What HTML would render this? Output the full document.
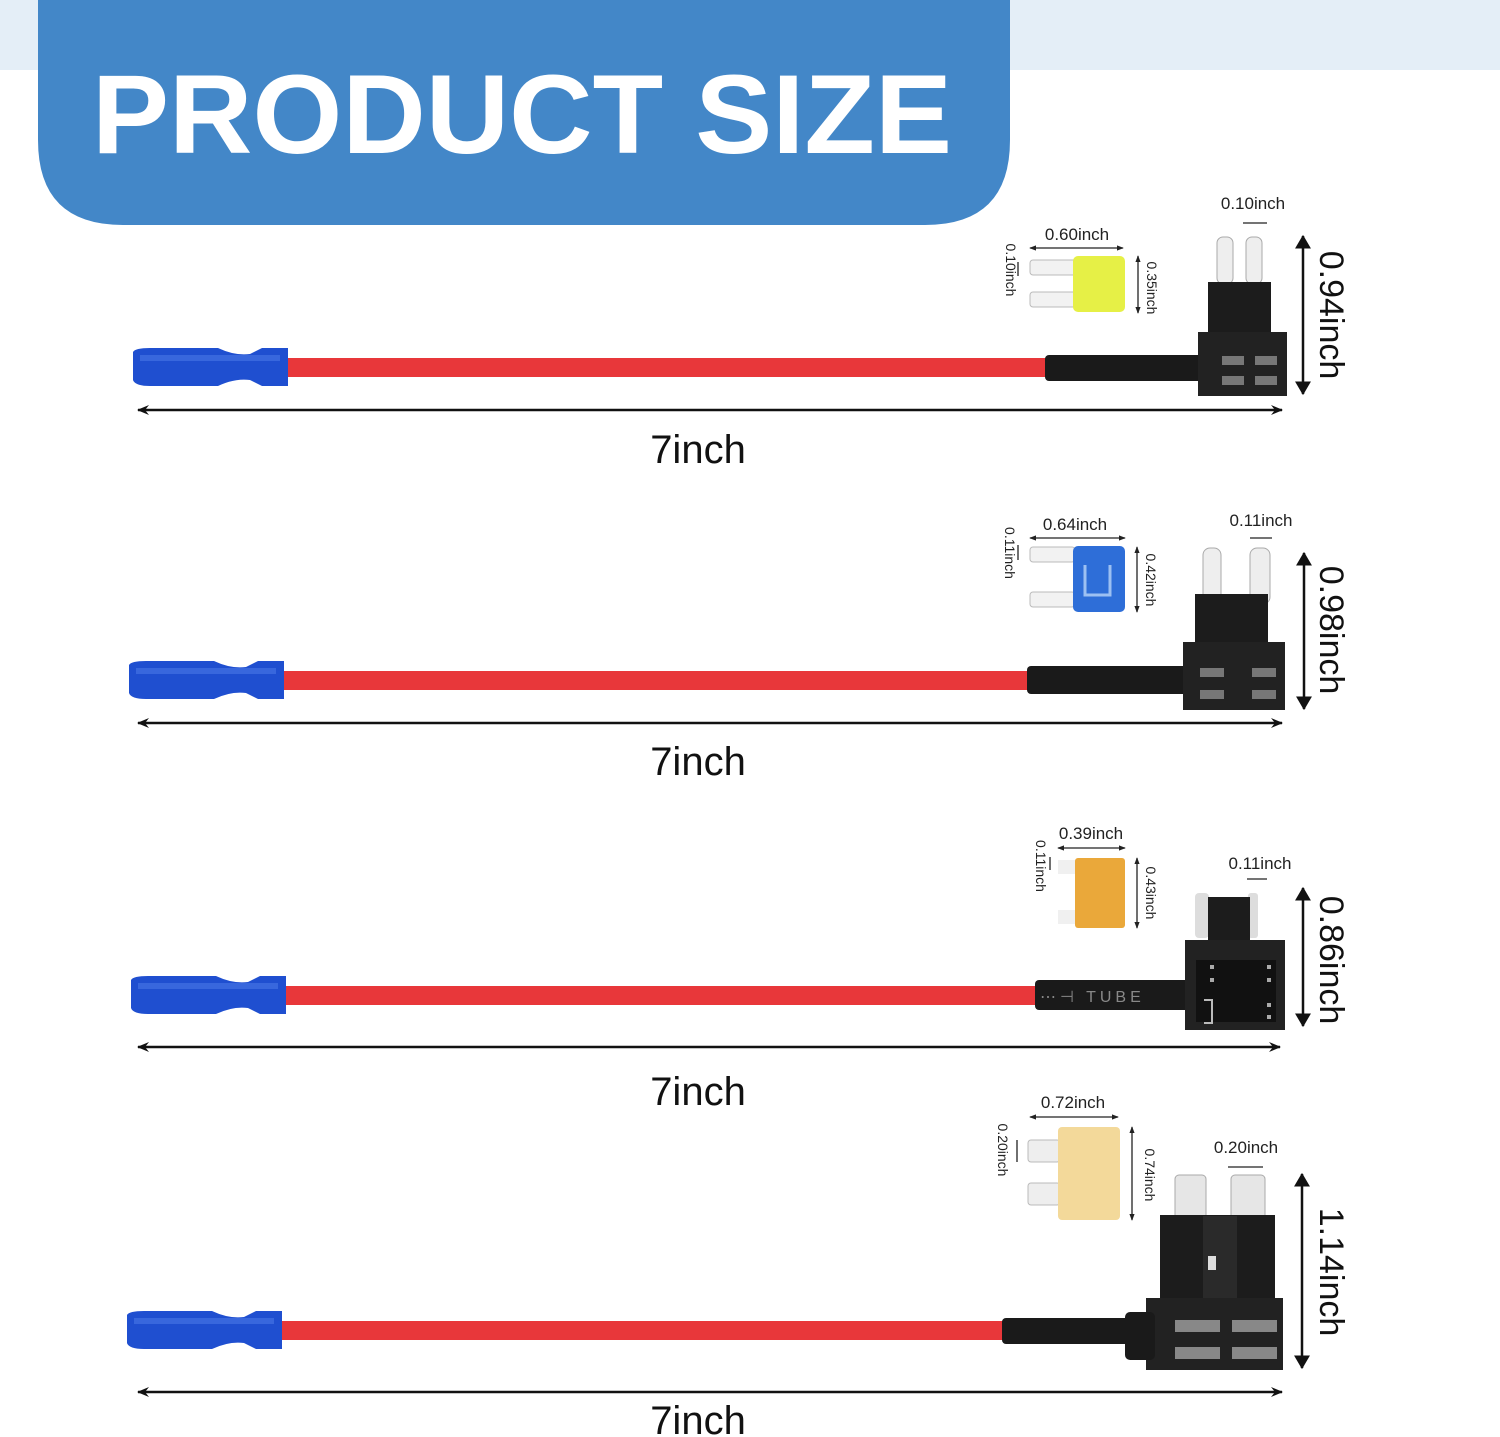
<!DOCTYPE html>
<html><head><meta charset="utf-8"><style>
html,body{margin:0;padding:0;background:#fff;}
svg{display:block;}
text{font-family:"Liberation Sans",sans-serif;}
</style></head><body>
<svg width="1500" height="1437" viewBox="0 0 1500 1437" xmlns="http://www.w3.org/2000/svg">
<defs>
<marker id="ah" viewBox="0 0 12 10" refX="11" refY="5" markerWidth="12" markerHeight="10" markerUnits="userSpaceOnUse" orient="auto-start-reverse"><path d="M0,0 L12,5 L0,10 L4,5 z" fill="#111"/></marker>
<marker id="ab" viewBox="0 0 12 14" refX="11" refY="7" markerWidth="14" markerHeight="16" markerUnits="userSpaceOnUse" orient="auto-start-reverse"><path d="M0,0 L12,7 L0,14 z" fill="#111"/></marker>
<marker id="as" viewBox="0 0 8 6" refX="7" refY="3" markerWidth="7" markerHeight="6" markerUnits="userSpaceOnUse" orient="auto-start-reverse"><path d="M0,0 L8,3 L0,6 z" fill="#222"/></marker>
</defs>
<rect x="0" y="0" width="1500" height="70" fill="#e4eef7"/>
<path d="M38,0 H1010 V140 Q1010,225 925,225 H123 Q38,225 38,140 Z" fill="#4387c8"/>
<text x="92" y="153" font-size="112" font-weight="bold" fill="#fff" textLength="860" lengthAdjust="spacingAndGlyphs">PRODUCT SIZE</text>

<!-- connectors -->
<g id="conn">
<path d="M133,352 Q135,348 150,348 H218 Q235,356 250,354 L262,348 H288 V386 H262 L250,380 Q235,378 218,386 H150 Q135,386 133,380 Z" fill="#1f4fd0"/>
<rect x="140" y="355" width="140" height="6" fill="#4a78e6" opacity="0.6"/>
</g>
<use href="#conn" transform="translate(-4,313)"/>
<use href="#conn" transform="translate(-2,628)"/>
<use href="#conn" transform="translate(-6,963)"/>

<!-- wires -->
<rect x="288" y="358" width="760" height="19" fill="#e8373a"/>
<rect x="1045" y="355" width="160" height="26" fill="#1a1a1a" rx="4"/>
<rect x="284" y="671" width="746" height="19" fill="#e8373a"/>
<rect x="1027" y="666" width="160" height="28" fill="#1a1a1a" rx="4"/>
<rect x="286" y="986" width="752" height="19" fill="#e8373a"/>
<rect x="1035" y="980" width="155" height="30" fill="#1a1a1a" rx="4"/>
<text x="1040" y="1002" font-size="16" fill="#888" letter-spacing="4">⋯⊣ TUBE</text>
<rect x="282" y="1321" width="722" height="19" fill="#e8373a"/>
<rect x="1002" y="1318" width="140" height="26" fill="#1a1a1a" rx="4"/>

<!-- holder 1 -->
<rect x="1217" y="237" width="16" height="47" rx="6" fill="#eee" stroke="#aaa"/>
<rect x="1246" y="237" width="16" height="47" rx="6" fill="#eee" stroke="#aaa"/>
<rect x="1208" y="282" width="63" height="52" fill="#1c1c1c"/>
<rect x="1198" y="332" width="89" height="64" fill="#222"/>
<g fill="#777"><rect x="1222" y="356" width="22" height="9"/><rect x="1255" y="356" width="22" height="9"/><rect x="1222" y="376" width="22" height="9"/><rect x="1255" y="376" width="22" height="9"/></g>
<!-- holder 2 -->
<rect x="1203" y="548" width="18" height="56" rx="7" fill="#eee" stroke="#aaa"/>
<rect x="1250" y="548" width="20" height="56" rx="7" fill="#eee" stroke="#aaa"/>
<rect x="1195" y="594" width="73" height="50" fill="#1c1c1c"/>
<rect x="1183" y="642" width="102" height="68" fill="#222"/>
<g fill="#777"><rect x="1200" y="668" width="24" height="9"/><rect x="1252" y="668" width="24" height="9"/><rect x="1200" y="690" width="24" height="9"/><rect x="1252" y="690" width="24" height="9"/></g>
<!-- holder 3 -->
<rect x="1195" y="893" width="14" height="45" rx="4" fill="#ddd"/>
<rect x="1248" y="893" width="10" height="45" rx="3" fill="#ddd"/>
<rect x="1208" y="897" width="42" height="45" fill="#1c1c1c"/>
<rect x="1185" y="940" width="100" height="90" fill="#222"/>
<rect x="1196" y="960" width="80" height="62" fill="#111"/>
<g fill="#aaa"><rect x="1210" y="965" width="4" height="4"/><rect x="1210" y="978" width="4" height="4"/><rect x="1267" y="965" width="4" height="4"/><rect x="1267" y="978" width="4" height="4"/><rect x="1267" y="1003" width="4" height="4"/><rect x="1267" y="1015" width="4" height="4"/></g>
<path d="M1204,1000 H1212 V1023 H1204" fill="none" stroke="#bbb" stroke-width="2"/>
<!-- holder 4 -->
<rect x="1175" y="1175" width="31" height="48" rx="4" fill="#e6e6e6" stroke="#aaa"/>
<rect x="1231" y="1175" width="34" height="48" rx="4" fill="#e6e6e6" stroke="#aaa"/>
<rect x="1160" y="1215" width="115" height="90" fill="#1c1c1c"/>
<rect x="1203" y="1216" width="34" height="85" fill="#2a2a2a"/>
<rect x="1208" y="1256" width="8" height="14" fill="#ddd"/>
<rect x="1146" y="1298" width="137" height="72" fill="#222"/>
<rect x="1125" y="1312" width="30" height="48" fill="#1a1a1a" rx="5"/>
<g fill="#888"><rect x="1175" y="1320" width="45" height="12"/><rect x="1232" y="1320" width="45" height="12"/><rect x="1175" y="1347" width="45" height="12"/><rect x="1232" y="1347" width="45" height="12"/></g>

<!-- fuses -->
<rect x="1030" y="260" width="48" height="15" rx="3" fill="#f2f2f2" stroke="#bbb"/>
<rect x="1030" y="292" width="48" height="15" rx="3" fill="#f2f2f2" stroke="#bbb"/>
<rect x="1073" y="256" width="52" height="56" rx="5" fill="#e6f046"/>
<rect x="1030" y="547" width="45" height="15" rx="3" fill="#f2f2f2" stroke="#bbb"/>
<rect x="1030" y="592" width="45" height="15" rx="3" fill="#f2f2f2" stroke="#bbb"/>
<rect x="1073" y="546" width="52" height="66" rx="5" fill="#2e6ed8"/>
<path d="M1085,565 V595 H1110 V565" fill="none" stroke="#9cc0f2" stroke-width="3"/>
<rect x="1058" y="860" width="20" height="14" fill="#f0f0f0"/>
<rect x="1058" y="910" width="20" height="14" fill="#f0f0f0"/>
<rect x="1075" y="858" width="50" height="70" rx="3" fill="#eaa83a"/>
<rect x="1028" y="1140" width="32" height="22" rx="3" fill="#eee" stroke="#bbb"/>
<rect x="1028" y="1183" width="32" height="22" rx="3" fill="#eee" stroke="#bbb"/>
<rect x="1058" y="1127" width="62" height="93" rx="4" fill="#f3d99a"/>

<!-- dimension lines -->
<g stroke="#111" stroke-width="2.5" fill="none">
<line x1="138" y1="410" x2="1282" y2="410" marker-start="url(#ah)" marker-end="url(#ah)"/>
<line x1="138" y1="723" x2="1282" y2="723" marker-start="url(#ah)" marker-end="url(#ah)"/>
<line x1="138" y1="1047" x2="1280" y2="1047" marker-start="url(#ah)" marker-end="url(#ah)"/>
<line x1="138" y1="1392" x2="1282" y2="1392" marker-start="url(#ah)" marker-end="url(#ah)"/>
<line x1="1303" y1="236" x2="1303" y2="394" marker-start="url(#ab)" marker-end="url(#ab)"/>
<line x1="1304" y1="553" x2="1304" y2="709" marker-start="url(#ab)" marker-end="url(#ab)"/>
<line x1="1303" y1="888" x2="1303" y2="1026" marker-start="url(#ab)" marker-end="url(#ab)"/>
<line x1="1302" y1="1174" x2="1302" y2="1368" marker-start="url(#ab)" marker-end="url(#ab)"/>
</g>
<g stroke="#222" stroke-width="1.3" fill="none">
<line x1="1030" y1="248" x2="1123" y2="248" marker-start="url(#as)" marker-end="url(#as)"/>
<line x1="1138" y1="256" x2="1138" y2="313" marker-start="url(#as)" marker-end="url(#as)"/>
<line x1="1030" y1="538" x2="1125" y2="538" marker-start="url(#as)" marker-end="url(#as)"/>
<line x1="1137" y1="547" x2="1137" y2="612" marker-start="url(#as)" marker-end="url(#as)"/>
<line x1="1058" y1="848" x2="1125" y2="848" marker-start="url(#as)" marker-end="url(#as)"/>
<line x1="1137" y1="858" x2="1137" y2="928" marker-start="url(#as)" marker-end="url(#as)"/>
<line x1="1030" y1="1117" x2="1118" y2="1117" marker-start="url(#as)" marker-end="url(#as)"/>
<line x1="1132" y1="1127" x2="1132" y2="1220" marker-start="url(#as)" marker-end="url(#as)"/>
<line x1="1243" y1="223" x2="1267" y2="223"/>
<line x1="1250" y1="538" x2="1272" y2="538"/>
<line x1="1247" y1="879" x2="1267" y2="879"/>
<line x1="1228" y1="1167" x2="1263" y2="1167"/>
<line x1="1018" y1="262" x2="1018" y2="276"/>
<line x1="1018" y1="545" x2="1018" y2="560"/>
<line x1="1050" y1="857" x2="1050" y2="870"/>
<line x1="1017" y1="1140" x2="1017" y2="1162"/>
</g>

<!-- labels -->
<g font-size="40" fill="#111" text-anchor="middle">
<text x="698" y="463">7inch</text>
<text x="698" y="775">7inch</text>
<text x="698" y="1105">7inch</text>
<text x="698" y="1434">7inch</text>
</g>
<g font-size="34" fill="#111" text-anchor="middle">
<text transform="translate(1320,315) rotate(90)">0.94inch</text>
<text transform="translate(1320,630) rotate(90)">0.98inch</text>
<text transform="translate(1320,960) rotate(90)">0.86inch</text>
<text transform="translate(1320,1272) rotate(90)">1.14inch</text>
</g>
<g font-size="17" fill="#222" text-anchor="middle">
<text x="1077" y="240">0.60inch</text>
<text x="1253" y="209">0.10inch</text>
<text x="1075" y="530">0.64inch</text>
<text x="1261" y="526">0.11inch</text>
<text x="1091" y="839">0.39inch</text>
<text x="1260" y="869">0.11inch</text>
<text x="1073" y="1108">0.72inch</text>
<text x="1246" y="1153">0.20inch</text>
</g>
<g font-size="14" fill="#222" text-anchor="middle">
<text transform="translate(1006,270) rotate(90)">0.10inch</text>
<text transform="translate(1147,288) rotate(90)">0.35inch</text>
<text transform="translate(1005,553) rotate(90)">0.11inch</text>
<text transform="translate(1146,580) rotate(90)">0.42inch</text>
<text transform="translate(1036,866) rotate(90)">0.11inch</text>
<text transform="translate(1146,893) rotate(90)">0.43inch</text>
<text transform="translate(998,1150) rotate(90)">0.20inch</text>
<text transform="translate(1145,1175) rotate(90)">0.74inch</text>
</g>
</svg>
</body></html>
